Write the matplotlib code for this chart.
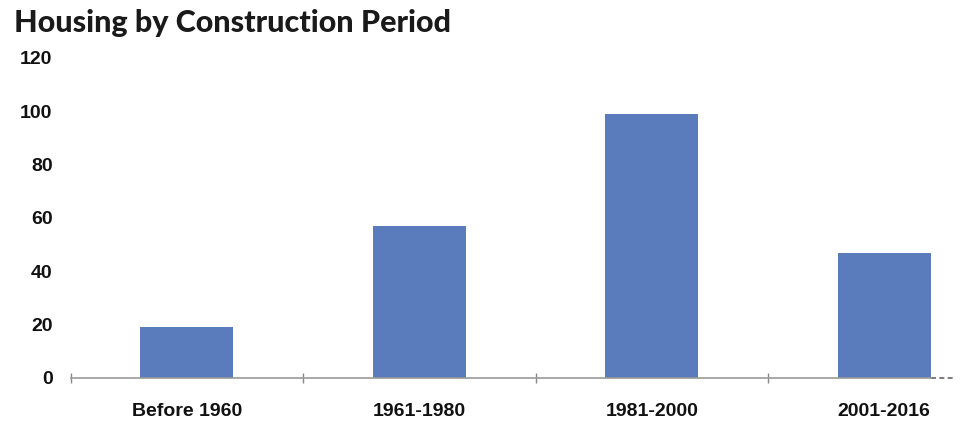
import numpy as np
import matplotlib
matplotlib.use('Agg')
from matplotlib import pyplot as plt

plt.rcParams['font.family'] = ['Liberation Sans', 'DejaVu Sans']

# data
periods = ['Before 1960', '1961-1980', '1981-2000', '2001-2016']
units = [19, 57, 99, 47]
yticks = [0, 20, 40, 60, 80, 100, 120]

fig = plt.figure(figsize=(9.61, 4.23), dpi=100)
ax = fig.add_axes([0.0735, 0.1064, 0.895, 0.757])

x = np.arange(len(periods))
ax.bar(x, units, width=0.4, color='#5b7cbc', zorder=2)

ax.set_ylim(0, 120)
ax.set_xlim(-0.5, 3.2)
ax.set_yticks(yticks)
ax.set_yticklabels([str(v) for v in yticks], fontsize=14, fontweight='bold', color='#111111')
ax.tick_params(axis='y', length=0, pad=13)

ax.set_xticks(x)
ax.set_xticklabels(periods, fontsize=14, fontweight='bold', color='#111111')
ax.tick_params(axis='x', which='major', length=0, pad=18)
# ticks at the category boundaries
ax.set_xticks(np.arange(-0.5, 3.0, 1.0), minor=True)
ax.tick_params(axis='x', which='minor', length=7, direction='inout', color='#888888', width=1)

for s in ['top', 'right', 'left']:
    ax.spines[s].set_visible(False)
ax.spines['bottom'].set_color('#999999')
ax.spines['bottom'].set_linewidth(1.2)
# dashed stub where the axis was cut off
ax.plot([3.2, 3.3], [0, 0], ls=(0, (3, 2)), color='#666666', lw=1.2, clip_on=False)

fig.text(0.015, 0.978, 'Housing by Construction Period', fontsize=22, fontweight='black',
         family=['Lato', 'DejaVu Sans'], va='top', ha='left', color='#1a1a1a')

fig.savefig('out.png', dpi=100)
